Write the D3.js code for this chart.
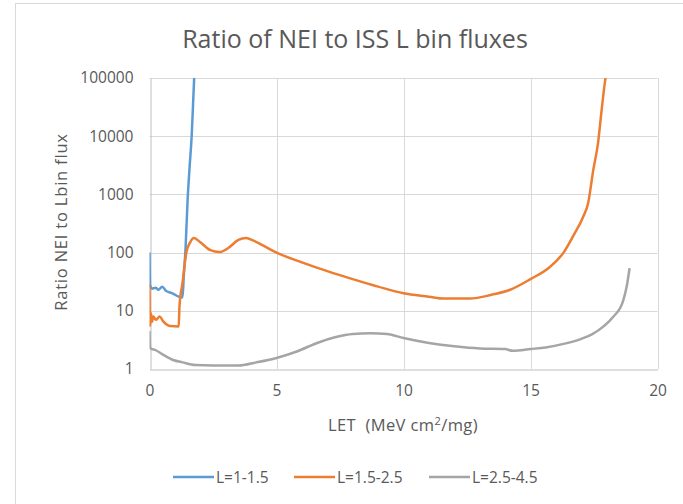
<!DOCTYPE html>
<html>
<head>
<meta charset="utf-8">
<script src="https://cdn.jsdelivr.net/npm/d3@7"></script>
<style>
  html, body { margin: 0; padding: 0; background: #fff; }
  svg { display: block; font-family: "Open Sans", Lato, sans-serif; }
</style>
</head>
<body>
<svg id="chart" width="683" height="504"></svg>
<script>
// LET values (MeV cm2/mg) and flux ratios for each L bin
const letL1 = [0, 0.02, 0.1, 0.25, 0.35, 0.5, 0.65, 0.9, 1.15, 1.3, 1.35, 1.42, 1.5, 1.58, 1.66, 1.72, 1.77];
const ratioL1 = [100, 28, 24, 25, 23, 26, 22, 20, 17.5, 17, 40, 120, 800, 3000, 10000, 40000, 130000];

const letL2 = [0, 0.02, 0.06, 0.1, 0.15, 0.25, 0.4, 0.55, 0.8, 1.15, 1.18, 1.3, 1.45, 1.6, 1.75, 2.0, 2.4, 2.75, 3.1, 3.5, 3.8, 4.1, 4.5, 5, 6, 7, 8, 9, 10, 11, 11.6, 12.6, 13.5, 14.2, 15, 15.75, 16.3, 16.7, 17.07, 17.27, 17.47, 17.66, 17.8, 17.93, 18.0];
const ratioL2 = [28, 5.5, 9, 6.5, 8, 7, 8, 6.5, 5.5, 5.4, 12, 30, 100, 150, 178, 150, 110, 102, 120, 165, 178, 160, 130, 100, 68, 48, 35, 26, 20, 17.5, 16.2, 16.2, 19, 23, 35, 56, 100, 200, 410, 710, 2600, 7700, 28000, 85000, 130000];

const letL3 = [0, 0.02, 0.25, 0.5, 0.93, 1.3, 1.8, 2.5, 3.5, 4.2, 5, 5.8, 6.6, 7.3, 8, 8.7, 9.35, 10, 11, 12, 13, 14, 14.3, 15, 15.6, 16.3, 17, 17.4, 17.9, 18.25, 18.65, 18.8, 18.9];
const ratioL3 = [4.5, 2.3, 2.1, 1.8, 1.43, 1.3, 1.17, 1.15, 1.15, 1.3, 1.55, 2.0, 2.8, 3.5, 4.0, 4.1, 4.0, 3.4, 2.8, 2.45, 2.25, 2.2, 2.05, 2.2, 2.35, 2.7, 3.3, 3.9, 5.5, 7.8, 15, 28, 54];

const seriesNames = ["L=1-1.5", "L=1.5-2.5", "L=2.5-4.5"];
const seriesColors = ["#5b9bd5", "#ed7d31", "#a5a5a5"];
const xTicks = [0, 5, 10, 15, 20];
const yTicks = [1, 10, 100, 1000, 10000, 100000];

const svg = d3.select("#chart");
const textColor = "#595959";

// chart frame
svg.append("rect")
  .attr("x", 15.5).attr("y", 3.5)
  .attr("width", 700).attr("height", 520)
  .attr("fill", "none").attr("stroke", "#d9d9d9");

const plot = { left: 149.5, right: 657.5, top: 78, bottom: 369 };

const x = d3.scaleLinear().domain([0, 20]).range([plot.left, plot.right]);
const y = d3.scaleLog().domain([1, 100000]).range([plot.bottom, plot.top]);

// gridlines
const grid = svg.append("g");
grid.selectAll(".hg").data(yTicks.slice(1)).join("line")
  .attr("x1", plot.left).attr("x2", plot.right)
  .attr("y1", d => Math.round(y(d)) + 0.5).attr("y2", d => Math.round(y(d)) + 0.5)
  .attr("stroke", "#d9d9d9").attr("stroke-width", 1);
grid.selectAll(".vg").data(xTicks.slice(1)).join("line")
  .attr("x1", d => Math.round(x(d)) + 0.5).attr("x2", d => Math.round(x(d)) + 0.5)
  .attr("y1", plot.top).attr("y2", plot.bottom)
  .attr("stroke", "#d9d9d9").attr("stroke-width", 1);

// axes
const xAxis = d3.axisBottom(x).tickValues(xTicks).tickSize(0).tickPadding(15);
const gx = svg.append("g").attr("transform", `translate(0,${Math.round(plot.bottom) + 0.5})`).call(xAxis);
gx.select(".domain").attr("stroke", "#bfbfbf");
gx.selectAll("text").attr("fill", textColor).style("font-size", "15.5px").style("font-family", "'Open Sans', sans-serif");

const yAxis = d3.axisLeft(y).tickValues(yTicks).tickFormat(d3.format("d")).tickSize(0).tickPadding(17);
const gy = svg.append("g").attr("transform", `translate(${Math.round(plot.left) + 0.5},0)`).call(yAxis);
gy.select(".domain").attr("stroke", "#bfbfbf");
gy.selectAll("text").attr("fill", textColor).style("font-size", "15.5px").style("font-family", "'Open Sans', sans-serif");

// series lines
svg.append("clipPath").attr("id", "plotclip")
  .append("rect").attr("x", plot.left).attr("y", plot.top)
  .attr("width", plot.right - plot.left).attr("height", plot.bottom - plot.top);

const seriesData = [
  d3.zip(letL1, ratioL1),
  d3.zip(letL2, ratioL2),
  d3.zip(letL3, ratioL3)
];
const line = d3.line().x(d => x(d[0])).y(d => y(d[1])).curve(d3.curveMonotoneX);
svg.append("g").attr("clip-path", "url(#plotclip)")
  .selectAll("path").data(seriesData).join("path")
  .attr("d", line)
  .attr("fill", "none")
  .attr("stroke", (d, i) => seriesColors[i])
  .attr("stroke-width", 2.5)
  .attr("stroke-linejoin", "round");

// title
svg.append("text")
  .attr("x", 355).attr("y", 48)
  .attr("text-anchor", "middle")
  .attr("fill", textColor)
  .style("font-size", "25px")
  .text("Ratio of NEI to ISS L bin fluxes");

// axis titles
svg.append("text")
  .attr("transform", "translate(67,222) rotate(-90)")
  .attr("text-anchor", "middle")
  .attr("fill", textColor)
  .style("font-size", "16.5px")
  .style("letter-spacing", "0.8px")
  .text("Ratio NEI to Lbin flux");

const xt = svg.append("text")
  .attr("x", 403).attr("y", 431)
  .attr("text-anchor", "middle")
  .attr("fill", textColor)
  .style("font-size", "16.5px")
  .style("letter-spacing", "0.4px")
  .style("white-space", "pre");
xt.append("tspan").text("LET  (MeV cm");
xt.append("tspan").attr("dy", -6).style("font-size", "11px").text("2");
xt.append("tspan").attr("dy", 6).text("/mg)");

// legend
const legendX = [173, 294, 429];
const lg = svg.append("g").selectAll("g").data(seriesNames).join("g")
  .attr("transform", (d, i) => `translate(${legendX[i]},477)`);
lg.append("line").attr("x1", 0).attr("x2", 41).attr("y1", 0).attr("y2", 0)
  .attr("stroke", (d, i) => seriesColors[i]).attr("stroke-width", 2.5);
lg.append("text").attr("x", 43).attr("y", 5.5)
  .attr("fill", textColor).style("font-size", "15.5px")
  .text(d => d);
</script>
</body>
</html>
